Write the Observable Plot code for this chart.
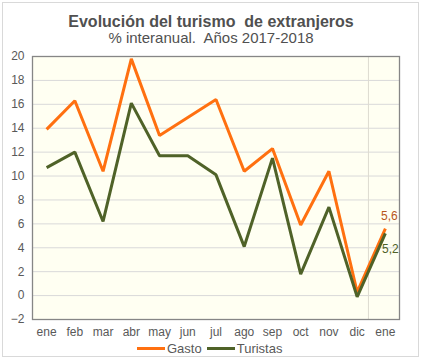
<!DOCTYPE html>
<html><head><meta charset="utf-8">
<script src="https://cdn.jsdelivr.net/npm/d3@7"></script>
<script src="https://cdn.jsdelivr.net/npm/@observablehq/plot@0.6"></script>
<style>
body{margin:0;width:422px;height:361px;position:relative;font-family:"Liberation Sans",Arial,sans-serif;background:#fff;overflow:hidden}
#frame{position:absolute;left:2px;top:2px;width:417px;height:355px;border:1px solid #D9D9D9;box-sizing:border-box}
#title{position:absolute;top:14px;left:0;width:422px;text-align:center;font-weight:bold;font-size:16px;line-height:16px;color:#505050;white-space:pre}
#subtitle{position:absolute;top:30px;left:0;width:422px;text-align:center;font-size:15px;line-height:15px;color:#505050;white-space:pre}
#chart{position:absolute;top:48px;left:0}
#legend{position:absolute;top:342px;left:137px;display:flex;align-items:center;font-size:13px;line-height:13px;color:#595959}
#legend .sw{display:inline-block;width:28px;height:3px;margin-right:2px}
#legend .it{display:flex;align-items:center;margin-right:5px}
</style>
</head><body>
<div id="frame"></div>
<div id="title">Evolución del turismo  de extranjeros</div>
<div id="subtitle">% interanual.  Años 2017-2018</div>
<div id="chart"></div>
<div id="legend"></div>
<script>
const months = ["ene","feb","mar","abr","may","jun","jul","ago","sep","oct","nov","dic","ene"];
const gasto = [13.9, 16.3, 10.4, 19.8, 13.4, 14.9, 16.4, 10.4, 12.3, 5.9, 10.4, 0.3, 5.6];
const turistas = [10.7, 12.0, 6.2, 16.1, 11.7, 11.7, 10.1, 4.1, 11.5, 1.8, 7.4, -0.1, 5.2];
const yTicks = [-2, 0, 2, 4, 6, 8, 10, 12, 14, 16, 18, 20];
const seriesNames = ["Gasto", "Turistas"];
const seriesColors = ["#FF7010", "#4F6228"];
const labelColors = ["#B8561A", "#4F6228"];
const yearBreak = [11.4];

const rows = [];
months.forEach((m, i) => {
  rows.push({i, serie: seriesNames[0], v: gasto[i]});
  rows.push({i, serie: seriesNames[1], v: turistas[i]});
});
const last = months.length - 1;
const fmt = v => v.toFixed(1).replace(".", ",");

const chart = Plot.plot({
  width: 422,
  height: 300,
  marginTop: 8,
  marginBottom: 29,
  marginLeft: 32,
  marginRight: 23,
  style: {fontFamily: "Liberation Sans, Arial, sans-serif", fontSize: "12px", color: "#595959", background: "transparent", overflow: "visible"},
  x: {type: "linear", domain: [-0.5, months.length - 0.5], ticks: d3.range(months.length), tickFormat: i => months[i], tickSize: 0, tickPadding: 8, label: null},
  y: {domain: [-2, 20], ticks: yTicks, tickSize: 0, tickPadding: 8, label: null},
  color: {domain: seriesNames, range: seriesColors},
  marks: [
    Plot.frame({fill: "#FFFFF2", stroke: null}),
    Plot.ruleY(yTicks, {stroke: "#D9D9D9", strokeWidth: 1}),
    Plot.ruleX(yearBreak, {stroke: "#DEDBD0", strokeWidth: 1}),
    Plot.line(rows, {x: "i", y: "v", z: "serie", stroke: "serie", strokeWidth: 3, strokeLinejoin: "miter", strokeLinecap: "butt"}),
    Plot.text([gasto[last]], {x: () => last, y: d => d, text: d => fmt(d), fill: labelColors[0], dx: 4, dy: -12, fontSize: 12}),
    Plot.text([turistas[last]], {x: () => last, y: d => d, text: d => fmt(d), fill: labelColors[1], dx: 5, dy: 16, fontSize: 12}),
    Plot.frame({stroke: "#868686", strokeWidth: 1.3})
  ]
});
document.getElementById("chart").appendChild(chart);

const leg = document.getElementById("legend");
seriesNames.forEach((n, k) => {
  const it = document.createElement("span");
  it.className = "it";
  const sw = document.createElement("span");
  sw.className = "sw";
  sw.style.background = seriesColors[k];
  it.appendChild(sw);
  it.appendChild(document.createTextNode(n));
  leg.appendChild(it);
});
</script>
</body></html>
